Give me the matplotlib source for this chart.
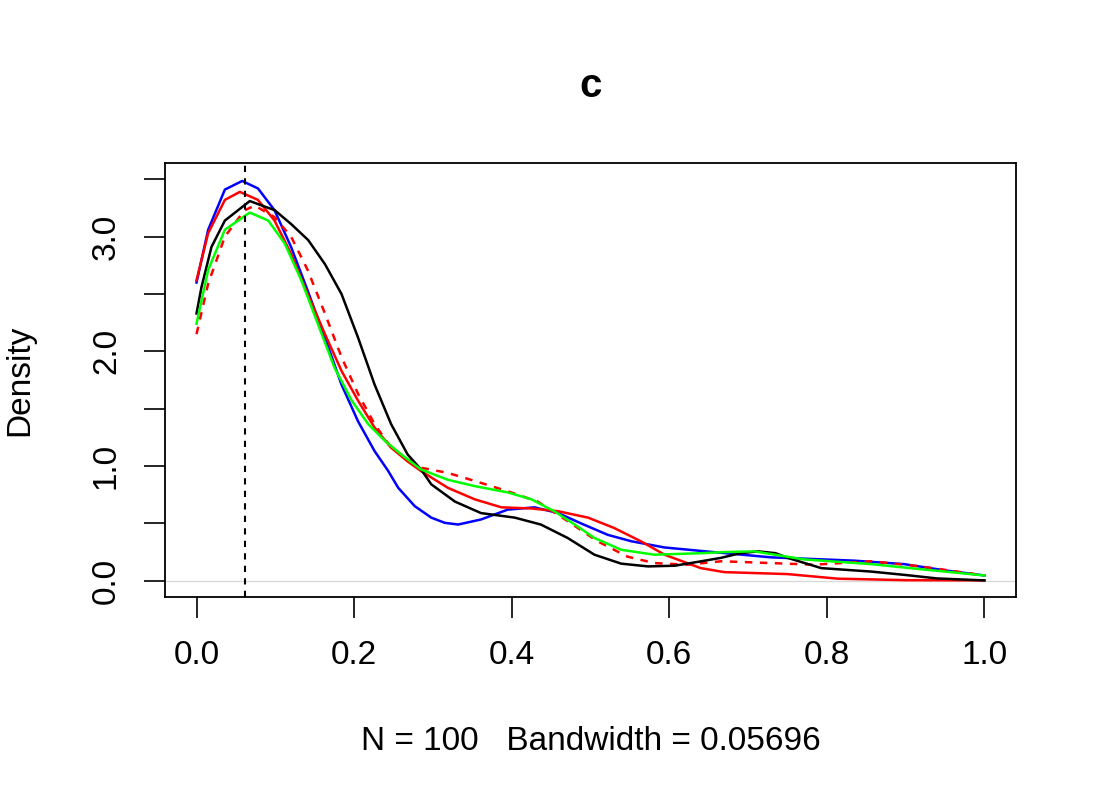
import matplotlib.pyplot as plt

plt.rcParams['font.family'] = ['Liberation Sans', 'DejaVu Sans']

# density curves (x, density)
blue_x = [0, 0.0148, 0.036, 0.058, 0.078, 0.099, 0.12, 0.141, 0.163, 0.184, 0.205, 0.226, 0.243,
          0.256, 0.277, 0.298, 0.315, 0.332, 0.361, 0.395, 0.429, 0.459, 0.488, 0.522, 0.552, 0.594,
          0.64, 0.729, 0.78, 0.835, 0.898, 0.95, 1.0]
blue_y = [2.60, 3.06, 3.41, 3.485, 3.42, 3.23, 2.91, 2.53, 2.12, 1.71, 1.39, 1.13, 0.96,
          0.81, 0.65, 0.55, 0.505, 0.49, 0.534, 0.62, 0.64, 0.59, 0.50, 0.40, 0.344, 0.29,
          0.26, 0.204, 0.19, 0.175, 0.145, 0.09, 0.046]

red_x = [0, 0.0148, 0.036, 0.055, 0.078, 0.099, 0.12, 0.141, 0.163, 0.184, 0.205, 0.226, 0.247,
         0.268, 0.285, 0.319, 0.353, 0.387, 0.425, 0.459, 0.497, 0.53, 0.564, 0.594, 0.64,
         0.67, 0.708, 0.75, 0.814, 0.9, 1.0]
red_y = [2.62, 3.03, 3.32, 3.39, 3.32, 3.14, 2.85, 2.50, 2.15, 1.83, 1.57, 1.335, 1.16,
         1.04, 0.956, 0.81, 0.71, 0.64, 0.63, 0.606, 0.55, 0.46, 0.344, 0.227, 0.11,
         0.075, 0.067, 0.058, 0.018, 0.005, 0.003]

dash_x = [0, 0.0148, 0.036, 0.061, 0.074, 0.099, 0.12, 0.141, 0.163, 0.184, 0.205, 0.226, 0.247,
          0.285, 0.319, 0.353, 0.395, 0.433, 0.471, 0.509, 0.547, 0.581, 0.623, 0.666, 0.729,
          0.784, 0.856, 0.919, 1.0]
dash_y = [2.15, 2.59, 3.00, 3.23, 3.27, 3.17, 3.00, 2.71, 2.33, 1.95, 1.63, 1.365, 1.16,
          0.985, 0.94, 0.87, 0.78, 0.69, 0.52, 0.344, 0.21, 0.154, 0.14, 0.17, 0.154,
          0.14, 0.17, 0.125, 0.046]

black_x = [0, 0.0063, 0.019, 0.036, 0.0676, 0.0993, 0.12, 0.1417, 0.163, 0.184, 0.205, 0.226,
           0.247, 0.268, 0.285, 0.298, 0.328, 0.361, 0.404, 0.437, 0.471, 0.505, 0.539, 0.573,
           0.607, 0.64, 0.666, 0.69, 0.713, 0.735, 0.75, 0.793, 0.856, 0.9, 0.94, 1.0]
black_y = [2.33, 2.56, 2.91, 3.14, 3.31, 3.23, 3.11, 2.97, 2.76, 2.50, 2.12, 1.71,
           1.365, 1.10, 0.97, 0.84, 0.69, 0.59, 0.55, 0.49, 0.373, 0.227, 0.149, 0.125,
           0.131, 0.169, 0.20, 0.24, 0.256, 0.24, 0.20, 0.11, 0.08, 0.05, 0.02, 0.003]

green_x = [0, 0.0148, 0.036, 0.0676, 0.091, 0.112, 0.133, 0.154, 0.175, 0.197, 0.218, 0.239,
           0.26, 0.285, 0.319, 0.353, 0.395, 0.425, 0.454, 0.48, 0.505, 0.539, 0.581, 0.64,
           0.67, 0.708, 0.771, 0.856, 0.92, 1.0]
green_y = [2.24, 2.71, 3.06, 3.21, 3.14, 2.94, 2.62, 2.24, 1.86, 1.57, 1.365, 1.22,
           1.10, 0.97, 0.88, 0.825, 0.77, 0.71, 0.606, 0.49, 0.373, 0.27, 0.227, 0.24,
           0.25, 0.256, 0.186, 0.145, 0.10, 0.046]

mode_x = 0.061

fig = plt.figure(figsize=(11, 8), dpi=100)
ax = fig.add_axes([0.15, 0.254, 0.7736, 0.542])

ax.axhline(0, color='#d9d9d9', lw=1)
ax.plot(blue_x, blue_y, color='blue', lw=1.8)
ax.plot(red_x, red_y, color='red', lw=1.8)
ax.plot(dash_x, dash_y, color='red', lw=1.8, ls=(0, (3, 3)))
ax.plot(black_x, black_y, color='black', lw=1.8)
ax.plot(green_x, green_y, color='#00ff00', lw=1.8)
ax.axvline(mode_x, color='black', lw=1.5, ls=(0, (3, 3)))

ax.set_xlim(-0.04, 1.04)
ax.set_ylim(-0.14, 3.64)
ax.set_xticks([0, 0.2, 0.4, 0.6, 0.8, 1.0])
ax.set_xticklabels(['0.0', '0.2', '0.4', '0.6', '0.8', '1.0'])
ax.set_yticks([0, 0.5, 1.0, 1.5, 2.0, 2.5, 3.0, 3.5])
ax.set_yticklabels(['0.0', '', '1.0', '', '2.0', '', '3.0', ''], rotation=90, va='center')
ax.tick_params(labelsize=24, length=15, width=1.2, pad=16)
for s in ax.spines.values():
    s.set_linewidth(1.3)

ax.set_xlabel('N = 100   Bandwidth = 0.05696', fontsize=24, labelpad=40)
ax.set_ylabel('Density', fontsize=24, labelpad=40)
ax.set_title('c', fontsize=29, fontweight='bold', pad=48)

fig.savefig('out.png')
